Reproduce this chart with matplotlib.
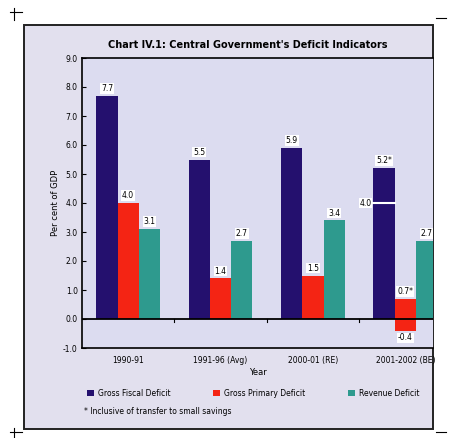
import numpy as np
import matplotlib.pyplot as plt
from matplotlib.patches import Rectangle, Patch
from matplotlib.lines import Line2D

# Данные графика
categories = ["1990-91", "1991-96 (Avg)", "2000-01 (RE)", "2001-2002 (BE)"]
gross_fiscal = [7.7, 5.5, 5.9, 5.2]
gross_primary = [4.0, 1.4, 1.5, 0.7]
revenue = [3.1, 2.7, 3.4, 2.7]
gfd_labels = ["7.7", "5.5", "5.9", "5.2*"]
gpd_labels = ["4.0", "1.4", "1.5", "0.7*"]
rd_labels = ["3.1", "2.7", "3.4", "2.7"]
# отдельные отметки для последней группы
gfd_inner = 4.0
gpd_negative = -0.4
series_names = ["Gross Fiscal Deficit", "Gross Primary Deficit", "Revenue Deficit"]
colors = ["#24106e", "#f42414", "#2e9a8e"]

W, H = 468, 438
fig = plt.figure(figsize=(W / 100, H / 100), dpi=100)
fig.patch.set_facecolor("white")

# рамка графика
frame = Rectangle((24 / W, 1 - 429 / H), (433 - 24) / W, (429 - 25) / H,
                  transform=fig.transFigure, facecolor="#e2e0ee",
                  edgecolor="#222222", lw=1.4, zorder=0)
fig.add_artist(frame)

ax = fig.add_axes([82 / W, 1 - 348 / H, (433 - 82) / W, (348 - 58) / H])
ax.set_facecolor("#dcdcf0")

x = np.arange(len(categories))
w = 0.23
ax.bar(x - w, gross_fiscal, w, color=colors[0], zorder=2)
ax.bar(x, gross_primary, w, color=colors[1], zorder=2)
ax.bar(x[-1:], [gpd_negative], w, color=colors[1], zorder=2)
ax.bar(x + w, revenue, w, color=colors[2], zorder=2)

lab = dict(ha="center", va="bottom", fontsize=5.5,
           bbox=dict(facecolor="white", edgecolor="none", pad=0.6))
for i in range(len(categories)):
    ax.text(x[i] - w, gross_fiscal[i] + 0.1, gfd_labels[i], **lab)
    ax.text(x[i], gross_primary[i] + 0.1, gpd_labels[i], **lab)
    ax.text(x[i] + w, revenue[i] + 0.1, rd_labels[i], **lab)

# белая линия внутри последнего столбца
ax.plot([x[-1] - 1.5 * w, x[-1] - 0.5 * w], [gfd_inner, gfd_inner],
        color="white", lw=1.5, zorder=3)
ax.text(x[-1] - 1.5 * w - 0.02, gfd_inner, f"{gfd_inner:.1f}", ha="right",
        va="center", fontsize=5.5,
        bbox=dict(facecolor="white", edgecolor="none", pad=0.6))
ax.text(x[-1], gpd_negative - 0.1, f"{gpd_negative:.1f}", ha="center", va="top",
        fontsize=5.5, bbox=dict(facecolor="white", edgecolor="none", pad=0.6))

ax.axhline(0, color="black", lw=1.3, zorder=4)
for b in [0.5, 1.5, 2.5]:
    ax.plot([b, b], [0, -0.12], color="black", lw=0.8, zorder=4)

ax.set_xlim(-0.5, 3.30)
ax.set_ylim(-1, 9)
ax.set_yticks(np.arange(-1, 10, 1))
ax.set_yticklabels([f"{v:.1f}" for v in np.arange(-1, 10, 1)], fontsize=5.5)
ax.set_xticks(x)
ax.set_xticklabels(categories, fontsize=5.5)
ax.tick_params(axis="x", length=0, pad=6)
ax.tick_params(axis="y", length=3, direction="in", pad=3)
ax.spines["right"].set_visible(False)
for s in ["left", "bottom", "top"]:
    ax.spines[s].set_linewidth(1.2)
ax.set_ylabel("Per cent of GDP", fontsize=6, labelpad=2)
ax.set_xlabel("Year", fontsize=6, labelpad=2)

fig.text(248 / W, 1 - 45 / H, "Chart IV.1: Central Government's Deficit Indicators",
         ha="center", va="center", fontsize=7, fontweight="bold")

handles = [Patch(facecolor=c, edgecolor="none") for c in colors]
fig.legend(handles, series_names, loc="center left",
           bbox_to_anchor=(80 / W, 1 - 393 / H), ncol=3, frameon=False,
           fontsize=5.5, handlelength=0.9, handleheight=0.9,
           columnspacing=5.5, handletextpad=0.6)
fig.text(84 / W, 1 - 411 / H, "* Inclusive of transfer to small savings",
         ha="left", va="center", fontsize=5.5)

# метки обреза
for (cx, cy) in [(14, 12), (14, 432)]:
    fig.add_artist(Line2D([(cx - 4) / W, (cx + 8) / W], [1 - cy / H, 1 - cy / H],
                          transform=fig.transFigure, color="black", lw=0.8))
    fig.add_artist(Line2D([cx / W, cx / W], [1 - (cy - 4) / H, 1 - (cy + 8) / H],
                          transform=fig.transFigure, color="black", lw=0.8))
for cy in [18, 432]:
    fig.add_artist(Line2D([436 / W, 446 / W], [1 - cy / H, 1 - cy / H],
                          transform=fig.transFigure, color="black", lw=0.8))

fig.savefig("out.png", dpi=100)
